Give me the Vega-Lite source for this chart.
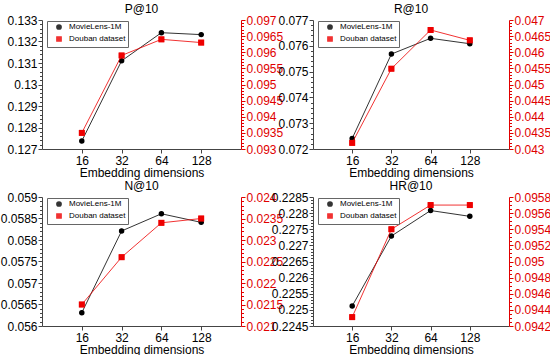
{
  "$schema": "https://vega.github.io/schema/vega-lite/v6.json",
  "padding": {"left": 0, "top": 3, "right": 0, "bottom": 0},
  "config": {
    "font": "Liberation Sans",
    "view": {"stroke": null},
    "title": {"fontSize": 12, "fontWeight": "normal", "offset": -2, "color": "black"},
    "legend": {"orient": "none", "legendX": 5, "legendY": 1, "title": null, "strokeColor": "#666", "fillColor": "white", "padding": 2, "labelFontSize": 8, "symbolSize": 18, "rowPadding": 0, "labelLimit": 120, "symbolOffset": 6, "labelOffset": 6}
  },
  "data": {"values": [
    {"metric": "P@10", "dataset": "MovieLens-1M", "dim": 16, "value": 0.12737},
    {"metric": "P@10", "dataset": "MovieLens-1M", "dim": 32, "value": 0.1311},
    {"metric": "P@10", "dataset": "MovieLens-1M", "dim": 64, "value": 0.13241},
    {"metric": "P@10", "dataset": "MovieLens-1M", "dim": 128, "value": 0.13232},
    {"metric": "P@10", "dataset": "Douban dataset", "dim": 16, "value": 0.0935},
    {"metric": "P@10", "dataset": "Douban dataset", "dim": 32, "value": 0.0959},
    {"metric": "P@10", "dataset": "Douban dataset", "dim": 64, "value": 0.0964},
    {"metric": "P@10", "dataset": "Douban dataset", "dim": 128, "value": 0.0963},
    {"metric": "R@10", "dataset": "MovieLens-1M", "dim": 16, "value": 0.07241},
    {"metric": "R@10", "dataset": "MovieLens-1M", "dim": 32, "value": 0.07568},
    {"metric": "R@10", "dataset": "MovieLens-1M", "dim": 64, "value": 0.07629},
    {"metric": "R@10", "dataset": "MovieLens-1M", "dim": 128, "value": 0.07608},
    {"metric": "R@10", "dataset": "Douban dataset", "dim": 16, "value": 0.04319},
    {"metric": "R@10", "dataset": "Douban dataset", "dim": 32, "value": 0.04549},
    {"metric": "R@10", "dataset": "Douban dataset", "dim": 64, "value": 0.04669},
    {"metric": "R@10", "dataset": "Douban dataset", "dim": 128, "value": 0.04637},
    {"metric": "N@10", "dataset": "MovieLens-1M", "dim": 16, "value": 0.05631},
    {"metric": "N@10", "dataset": "MovieLens-1M", "dim": 32, "value": 0.05821},
    {"metric": "N@10", "dataset": "MovieLens-1M", "dim": 64, "value": 0.05861},
    {"metric": "N@10", "dataset": "MovieLens-1M", "dim": 128, "value": 0.05841},
    {"metric": "N@10", "dataset": "Douban dataset", "dim": 16, "value": 0.0215},
    {"metric": "N@10", "dataset": "Douban dataset", "dim": 32, "value": 0.0226},
    {"metric": "N@10", "dataset": "Douban dataset", "dim": 64, "value": 0.0234},
    {"metric": "N@10", "dataset": "Douban dataset", "dim": 128, "value": 0.0235},
    {"metric": "HR@10", "dataset": "MovieLens-1M", "dim": 16, "value": 0.22512},
    {"metric": "HR@10", "dataset": "MovieLens-1M", "dim": 32, "value": 0.22729},
    {"metric": "HR@10", "dataset": "MovieLens-1M", "dim": 64, "value": 0.22808},
    {"metric": "HR@10", "dataset": "MovieLens-1M", "dim": 128, "value": 0.2279},
    {"metric": "HR@10", "dataset": "Douban dataset", "dim": 16, "value": 0.09431},
    {"metric": "HR@10", "dataset": "Douban dataset", "dim": 32, "value": 0.0954},
    {"metric": "HR@10", "dataset": "Douban dataset", "dim": 64, "value": 0.0957},
    {"metric": "HR@10", "dataset": "Douban dataset", "dim": 128, "value": 0.0957}
  ]},
  "columns": 2,
  "bounds": "flush",
  "align": "all",
  "spacing": {"row": 48, "column": 72},
  "resolve": {"scale": {"color": "independent", "shape": "independent"}, "legend": {"color": "independent", "shape": "independent"}},
  "concat": [
    {
      "title": "P@10",
      "width": 199, "height": 129,
      "transform": [{"filter": "datum.metric === 'P@10'"}],
      "encoding": {"x": {"field": "dim", "type": "ordinal", "scale": {"type": "point", "padding": 1}, "axis": {"title": "Embedding dimensions", "titleFontSize": 12, "titleFontWeight": "normal", "titleColor": "black", "titlePadding": 1, "labelFontSize": 12, "labelAngle": 0, "labelColor": "black", "labelPadding": 2, "tickSize": 4, "domainColor": "#444", "tickColor": "#444"}}},
      "layer": [
        {
          "transform": [{"filter": "datum.dataset === 'MovieLens-1M'"}],
          "encoding": {
            "y": {"field": "value", "type": "quantitative", "scale": {"domain": [0.127, 0.133], "zero": false, "nice": false}, "axis": {"orient": "left", "title": null, "grid": false, "tickCount": 30, "labelFontSize": 12, "labelColor": "black", "labelFlush": false, "labelOverlap": false, "labelBound": false, "labelPadding": 1, "domainColor": "#444", "tickColor": "#444", "labelExpr": "abs(datum.value/0.001 - round(datum.value/0.001)) < 0.01 ? format(datum.value, '.4~g') : ''", "tickSize": {"condition": {"test": "abs(datum.value/0.001 - round(datum.value/0.001)) < 0.01", "value": 4}, "value": 2.5}}},
            "color": {"field": "dataset", "type": "nominal", "scale": {"domain": ["MovieLens-1M", "Douban dataset"], "range": ["#000000", "#ee0000"]}},
            "shape": {"field": "dataset", "type": "nominal", "scale": {"domain": ["MovieLens-1M", "Douban dataset"], "range": ["circle", "square"]}}
          },
          "layer": [
            {"mark": {"type": "line", "strokeWidth": 1, "opacity": 0.8}},
            {"mark": {"type": "point", "filled": true, "size": 18, "opacity": 1}}
          ]
        },
        {
          "transform": [{"filter": "datum.dataset === 'Douban dataset'"}],
          "encoding": {
            "y": {"field": "value", "type": "quantitative", "scale": {"domain": [0.093, 0.097], "zero": false, "nice": false}, "axis": {"orient": "right", "title": null, "grid": false, "tickCount": 40, "labelFontSize": 12, "labelColor": "#e00000", "labelFlush": false, "labelOverlap": false, "labelBound": false, "labelPadding": 1, "domainColor": "#e00000", "tickColor": "#e00000", "labelExpr": "abs(datum.value/0.0005 - round(datum.value/0.0005)) < 0.01 ? format(datum.value, '.4~g') : ''", "tickSize": {"condition": {"test": "abs(datum.value/0.0005 - round(datum.value/0.0005)) < 0.01", "value": 4}, "value": 2.5}}},
            "color": {"field": "dataset", "type": "nominal", "scale": {"domain": ["MovieLens-1M", "Douban dataset"], "range": ["#000000", "#ee0000"]}},
            "shape": {"field": "dataset", "type": "nominal", "scale": {"domain": ["MovieLens-1M", "Douban dataset"], "range": ["circle", "square"]}}
          },
          "layer": [
            {"mark": {"type": "line", "strokeWidth": 1, "opacity": 0.8}},
            {"mark": {"type": "point", "filled": true, "size": 36, "opacity": 1}}
          ]
        }
      ],
      "resolve": {"scale": {"y": "independent"}}
    },
    {
      "title": "R@10",
      "width": 196, "height": 129,
      "transform": [{"filter": "datum.metric === 'R@10'"}],
      "encoding": {"x": {"field": "dim", "type": "ordinal", "scale": {"type": "point", "padding": 1}, "axis": {"title": "Embedding dimensions", "titleFontSize": 12, "titleFontWeight": "normal", "titleColor": "black", "titlePadding": 1, "labelFontSize": 12, "labelAngle": 0, "labelColor": "black", "labelPadding": 2, "tickSize": 4, "domainColor": "#444", "tickColor": "#444"}}},
      "layer": [
        {
          "transform": [{"filter": "datum.dataset === 'MovieLens-1M'"}],
          "encoding": {
            "y": {"field": "value", "type": "quantitative", "scale": {"domain": [0.072, 0.077], "zero": false, "nice": false}, "axis": {"orient": "left", "title": null, "grid": false, "tickCount": 25, "labelFontSize": 12, "labelColor": "black", "labelFlush": false, "labelOverlap": false, "labelBound": false, "labelPadding": 1, "domainColor": "#444", "tickColor": "#444", "labelExpr": "abs(datum.value/0.001 - round(datum.value/0.001)) < 0.01 ? format(datum.value, '.4~g') : ''", "tickSize": {"condition": {"test": "abs(datum.value/0.001 - round(datum.value/0.001)) < 0.01", "value": 4}, "value": 2.5}}},
            "color": {"field": "dataset", "type": "nominal", "scale": {"domain": ["MovieLens-1M", "Douban dataset"], "range": ["#000000", "#ee0000"]}},
            "shape": {"field": "dataset", "type": "nominal", "scale": {"domain": ["MovieLens-1M", "Douban dataset"], "range": ["circle", "square"]}}
          },
          "layer": [
            {"mark": {"type": "line", "strokeWidth": 1, "opacity": 0.8}},
            {"mark": {"type": "point", "filled": true, "size": 18, "opacity": 1}}
          ]
        },
        {
          "transform": [{"filter": "datum.dataset === 'Douban dataset'"}],
          "encoding": {
            "y": {"field": "value", "type": "quantitative", "scale": {"domain": [0.043, 0.047], "zero": false, "nice": false}, "axis": {"orient": "right", "title": null, "grid": false, "tickCount": 40, "labelFontSize": 12, "labelColor": "#e00000", "labelFlush": false, "labelOverlap": false, "labelBound": false, "labelPadding": 1, "domainColor": "#e00000", "tickColor": "#e00000", "labelExpr": "abs(datum.value/0.0005 - round(datum.value/0.0005)) < 0.01 ? format(datum.value, '.4~g') : ''", "tickSize": {"condition": {"test": "abs(datum.value/0.0005 - round(datum.value/0.0005)) < 0.01", "value": 4}, "value": 2.5}}},
            "color": {"field": "dataset", "type": "nominal", "scale": {"domain": ["MovieLens-1M", "Douban dataset"], "range": ["#000000", "#ee0000"]}},
            "shape": {"field": "dataset", "type": "nominal", "scale": {"domain": ["MovieLens-1M", "Douban dataset"], "range": ["circle", "square"]}}
          },
          "layer": [
            {"mark": {"type": "line", "strokeWidth": 1, "opacity": 0.8}},
            {"mark": {"type": "point", "filled": true, "size": 36, "opacity": 1}}
          ]
        }
      ],
      "resolve": {"scale": {"y": "independent"}}
    },
    {
      "title": "N@10",
      "width": 199, "height": 129,
      "transform": [{"filter": "datum.metric === 'N@10'"}],
      "encoding": {"x": {"field": "dim", "type": "ordinal", "scale": {"type": "point", "padding": 1}, "axis": {"title": "Embedding dimensions", "titleFontSize": 12, "titleFontWeight": "normal", "titleColor": "black", "titlePadding": 1, "labelFontSize": 12, "labelAngle": 0, "labelColor": "black", "labelPadding": 2, "tickSize": 4, "domainColor": "#444", "tickColor": "#444"}}},
      "layer": [
        {
          "transform": [{"filter": "datum.dataset === 'MovieLens-1M'"}],
          "encoding": {
            "y": {"field": "value", "type": "quantitative", "scale": {"domain": [0.056, 0.059], "zero": false, "nice": false}, "axis": {"orient": "left", "title": null, "grid": false, "tickCount": 30, "labelFontSize": 12, "labelColor": "black", "labelFlush": false, "labelOverlap": false, "labelBound": false, "labelPadding": 1, "domainColor": "#444", "tickColor": "#444", "labelExpr": "abs(datum.value/0.0005 - round(datum.value/0.0005)) < 0.01 ? format(datum.value, '.4~g') : ''", "tickSize": {"condition": {"test": "abs(datum.value/0.0005 - round(datum.value/0.0005)) < 0.01", "value": 4}, "value": 2.5}}},
            "color": {"field": "dataset", "type": "nominal", "scale": {"domain": ["MovieLens-1M", "Douban dataset"], "range": ["#000000", "#ee0000"]}},
            "shape": {"field": "dataset", "type": "nominal", "scale": {"domain": ["MovieLens-1M", "Douban dataset"], "range": ["circle", "square"]}}
          },
          "layer": [
            {"mark": {"type": "line", "strokeWidth": 1, "opacity": 0.8}},
            {"mark": {"type": "point", "filled": true, "size": 18, "opacity": 1}}
          ]
        },
        {
          "transform": [{"filter": "datum.dataset === 'Douban dataset'"}],
          "encoding": {
            "y": {"field": "value", "type": "quantitative", "scale": {"domain": [0.021, 0.024], "zero": false, "nice": false}, "axis": {"orient": "right", "title": null, "grid": false, "tickCount": 30, "labelFontSize": 12, "labelColor": "#e00000", "labelFlush": false, "labelOverlap": false, "labelBound": false, "labelPadding": 1, "domainColor": "#e00000", "tickColor": "#e00000", "labelExpr": "abs(datum.value/0.0005 - round(datum.value/0.0005)) < 0.01 ? format(datum.value, '.4~g') : ''", "tickSize": {"condition": {"test": "abs(datum.value/0.0005 - round(datum.value/0.0005)) < 0.01", "value": 4}, "value": 2.5}}},
            "color": {"field": "dataset", "type": "nominal", "scale": {"domain": ["MovieLens-1M", "Douban dataset"], "range": ["#000000", "#ee0000"]}},
            "shape": {"field": "dataset", "type": "nominal", "scale": {"domain": ["MovieLens-1M", "Douban dataset"], "range": ["circle", "square"]}}
          },
          "layer": [
            {"mark": {"type": "line", "strokeWidth": 1, "opacity": 0.8}},
            {"mark": {"type": "point", "filled": true, "size": 36, "opacity": 1}}
          ]
        }
      ],
      "resolve": {"scale": {"y": "independent"}}
    },
    {
      "title": "HR@10",
      "width": 196, "height": 129,
      "transform": [{"filter": "datum.metric === 'HR@10'"}],
      "encoding": {"x": {"field": "dim", "type": "ordinal", "scale": {"type": "point", "padding": 1}, "axis": {"title": "Embedding dimensions", "titleFontSize": 12, "titleFontWeight": "normal", "titleColor": "black", "titlePadding": 1, "labelFontSize": 12, "labelAngle": 0, "labelColor": "black", "labelPadding": 2, "tickSize": 4, "domainColor": "#444", "tickColor": "#444"}}},
      "layer": [
        {
          "transform": [{"filter": "datum.dataset === 'MovieLens-1M'"}],
          "encoding": {
            "y": {"field": "value", "type": "quantitative", "scale": {"domain": [0.2245, 0.2285], "zero": false, "nice": false}, "axis": {"orient": "left", "title": null, "grid": false, "tickCount": 40, "labelFontSize": 12, "labelColor": "black", "labelFlush": false, "labelOverlap": false, "labelBound": false, "labelPadding": 1, "domainColor": "#444", "tickColor": "#444", "labelExpr": "abs(datum.value/0.0005 - round(datum.value/0.0005)) < 0.01 ? format(datum.value, '.4~g') : ''", "tickSize": {"condition": {"test": "abs(datum.value/0.0005 - round(datum.value/0.0005)) < 0.01", "value": 4}, "value": 2.5}}},
            "color": {"field": "dataset", "type": "nominal", "scale": {"domain": ["MovieLens-1M", "Douban dataset"], "range": ["#000000", "#ee0000"]}},
            "shape": {"field": "dataset", "type": "nominal", "scale": {"domain": ["MovieLens-1M", "Douban dataset"], "range": ["circle", "square"]}}
          },
          "layer": [
            {"mark": {"type": "line", "strokeWidth": 1, "opacity": 0.8}},
            {"mark": {"type": "point", "filled": true, "size": 18, "opacity": 1}}
          ]
        },
        {
          "transform": [{"filter": "datum.dataset === 'Douban dataset'"}],
          "encoding": {
            "y": {"field": "value", "type": "quantitative", "scale": {"domain": [0.0942, 0.0958], "zero": false, "nice": false}, "axis": {"orient": "right", "title": null, "grid": false, "tickCount": 32, "labelFontSize": 12, "labelColor": "#e00000", "labelFlush": false, "labelOverlap": false, "labelBound": false, "labelPadding": 1, "domainColor": "#e00000", "tickColor": "#e00000", "labelExpr": "abs(datum.value/0.0002 - round(datum.value/0.0002)) < 0.01 ? format(datum.value, '.4~g') : ''", "tickSize": {"condition": {"test": "abs(datum.value/0.0002 - round(datum.value/0.0002)) < 0.01", "value": 4}, "value": 2.5}}},
            "color": {"field": "dataset", "type": "nominal", "scale": {"domain": ["MovieLens-1M", "Douban dataset"], "range": ["#000000", "#ee0000"]}},
            "shape": {"field": "dataset", "type": "nominal", "scale": {"domain": ["MovieLens-1M", "Douban dataset"], "range": ["circle", "square"]}}
          },
          "layer": [
            {"mark": {"type": "line", "strokeWidth": 1, "opacity": 0.8}},
            {"mark": {"type": "point", "filled": true, "size": 36, "opacity": 1}}
          ]
        }
      ],
      "resolve": {"scale": {"y": "independent"}}
    }
  ]
}
